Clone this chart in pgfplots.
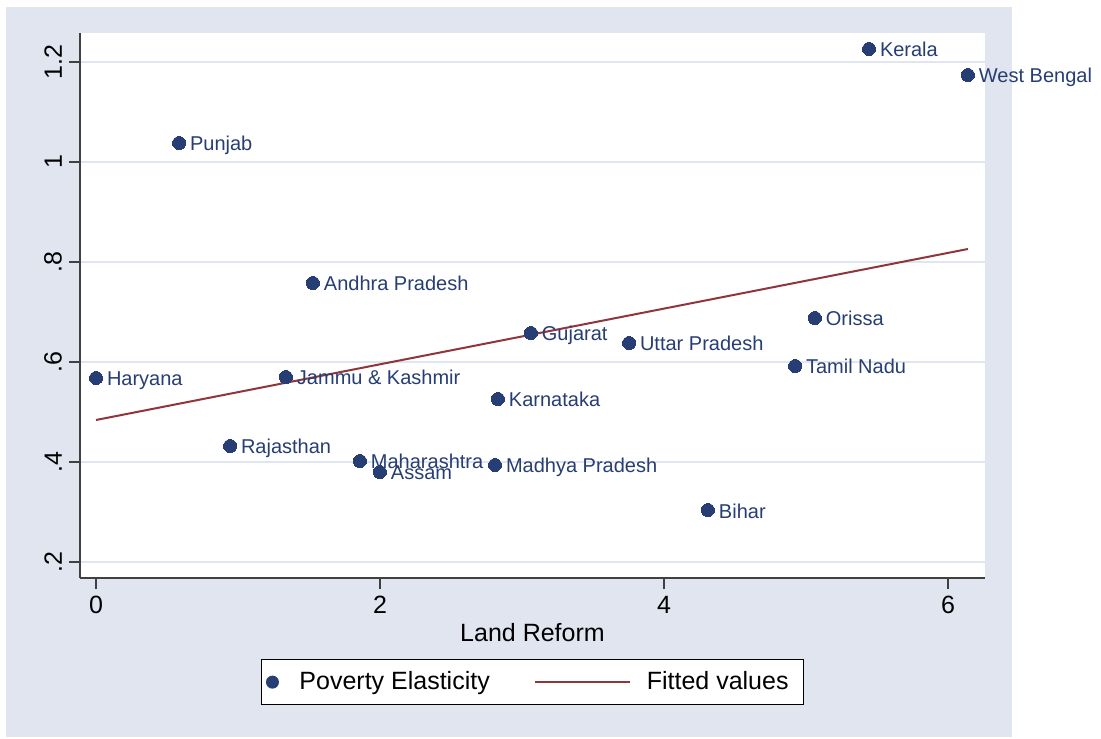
\documentclass[border=0pt]{standalone}
\usepackage{pgfplots}
\pgfplotsset{compat=1.18}
\usepackage{fontspec}
\setmainfont{Liberation Sans}
\definecolor{bg}{RGB}{224,229,240}
\definecolor{gridc}{RGB}{224,229,240}
\definecolor{navy}{RGB}{38,62,115}
\definecolor{maroon}{RGB}{144,53,59}
\begin{document}
\begin{tikzpicture}
\path[use as bounding box] (0,0) rectangle (550.5pt,369pt);
\fill[bg] (3pt,0.5pt) rectangle (506pt,365.5pt);
\begin{axis}[
  at={(40pt,80pt)}, anchor=south west,
  scale only axis, width=452.5pt, height=272.5pt,
  xmin=-0.1127, xmax=6.261, ymin=0.168, ymax=1.258,
  axis background/.style={fill=white},
  axis x line*=bottom, axis y line*=left,
  axis line style={-, draw=black!75, line width=0.75pt},
  tick align=outside, major tick length=5.5pt,
  tick style={draw=black!75, line width=0.75pt},
  xtick={0,2,4,6}, xticklabels={0,2,4,6},
  ytick={0.2,0.4,0.6,0.8,1,1.2}, yticklabels={.2,.4,.6,.8,1,1.2},
  yticklabel style={rotate=90, anchor=south},
  ticklabel style={font=\fontsize{12.5}{15}\selectfont},
  ymajorgrids, grid style={draw=gridc, line width=1pt},
  xlabel={Land Reform}, xlabel style={font=\fontsize{12.5}{15}\selectfont, yshift=2pt},
  clip=false,
  legend columns=2,
  legend style={at={(0.5,-0.1486)}, anchor=north, draw=black, line width=0.6pt, fill=white,
    font=\fontsize{12.5}{15}\selectfont, inner xsep=0pt, inner ysep=6pt,
    nodes={inner sep=0pt},
    /tikz/every odd column/.append style={column sep=8pt},
    /tikz/every even column/.append style={column sep=22pt}},
  legend cell align=left,
]
\addplot[navy, only marks, mark=*, mark size=3.25pt, mark options={fill=navy, draw=navy, line width=0pt},
  point meta=explicit symbolic, nodes near coords,
  every node near coord/.append style={anchor=base west, xshift=5.5pt, yshift=-4pt,
    font=\fontsize{10}{12}\selectfont, text=navy, inner sep=0pt},
  legend image code/.code={\path[draw=none] (-5.5pt,0pt) -- (5.5pt,0pt); \fill[navy, draw=none] (0pt,0pt) circle (3.25pt);}
] coordinates {
 (5.444,1.226) [Kerala]
 (6.141,1.174) [West Bengal]
 (0.585,1.038) [Punjab]
 (1.528,0.758) [Andhra Pradesh]
 (3.063,0.658) [Gujarat]
 (5.063,0.688) [Orissa]
 (3.754,0.638) [Uttar Pradesh]
 (4.923,0.592) [Tamil Nadu]
 (0,0.568) [Haryana]
 (1.338,0.570) [Jammu \& Kashmir]
 (2.831,0.526) [Karnataka]
 (0.944,0.432) [Rajasthan]
 (1.859,0.402) [Maharashtra]
 (2.0,0.380) [Assam]
 (2.810,0.394) [Madhya Pradesh]
 (4.310,0.304) [Bihar]
};
\addlegendentry{Poverty Elasticity}
\addplot[maroon, line width=1pt,
  legend image code/.code={\draw[maroon, line width=1pt] (0pt,0pt) -- (47.5pt,0pt);}]
  coordinates {(0,0.484) (6.141,0.826)};
\addlegendentry{Fitted values\hspace*{7.5pt}}
\end{axis}
\end{tikzpicture}
\end{document}
